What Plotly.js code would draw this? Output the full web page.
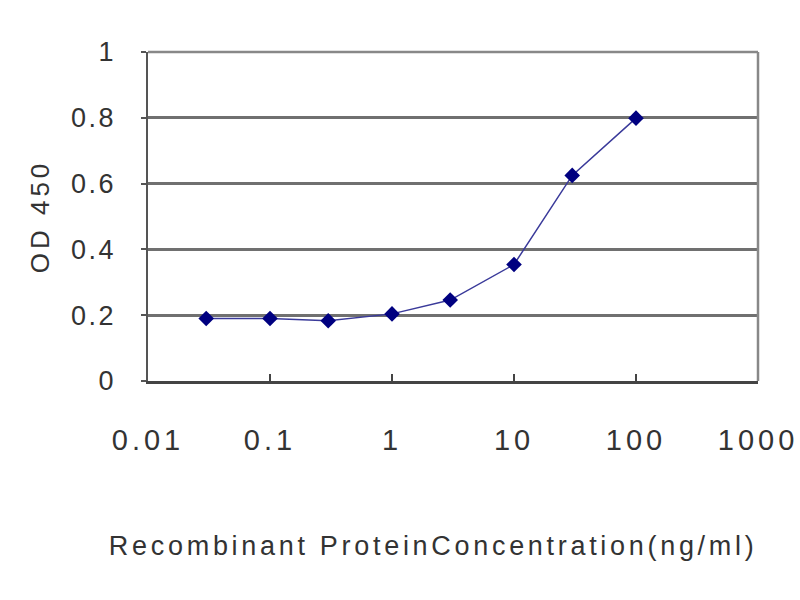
<!DOCTYPE html>
<html>
<head>
<meta charset="utf-8">
<script src="https://cdn.plot.ly/plotly-3.0.1.min.js"></script>
<style>
  html, body { margin: 0; padding: 0; background: #fff; }
  #chart { width: 800px; height: 600px; }
  /* the reference text is spaced out wider than plain Arial */
  #chart .annotation-text { letter-spacing: 3.7px; }
  #chart .ytitle { letter-spacing: 4px; }
  #chart .xtick text { letter-spacing: 4px; }
  #chart .ytick text { letter-spacing: 2.5px; }
</style>
</head>
<body>
<div id="chart"></div>
<script>
// concentration (ng/ml) and OD 450 readings
const concentration = [0.03, 0.1, 0.3, 1, 3, 10, 30, 100];
const od450 = [0.19, 0.19, 0.183, 0.204, 0.246, 0.354, 0.625, 0.799];
const xTickVals = [0.01, 0.1, 1, 10, 100, 1000];
const xTickText = ["0.01", "0.1", "1", "10", "100", "1000"];
const yTickVals = [0, 0.2, 0.4, 0.6, 0.8, 1];
const yTickText = ["0", "0.2", "0.4", "0.6", "0.8", "1"];
const xTitle = "Recombinant ProteinConcentration(ng/ml)";

const font = "Liberation Sans, Arial, sans-serif";

chart = document.getElementById('chart');
Plotly.newPlot(
    chart, [{
        x: concentration,
        y: od450,
        type: "scatter",
        mode: "lines+markers",
        line: { color: "#3a3a9a", width: 1.5 },
        marker: { symbol: "diamond", size: 12, color: "#000080" },
        hoverinfo: "x+y"
    }],
    {
        width: 800,
        height: 600,
        margin: { l: 148, r: 42, t: 52, b: 219 },
        paper_bgcolor: "#fff",
        plot_bgcolor: "#fff",
        showlegend: false,
        font: { family: font, color: "#222" },
        xaxis: {
            type: "log",
            range: [-2, 3],
            tickvals: xTickVals,
            ticktext: xTickText,
            tickfont: { size: 29, color: "#333" },
            ticks: "inside",
            ticklen: 7,
            tickwidth: 2,
            tickcolor: "#444",
            ticklabelstandoff: 32,
            showgrid: false,
            zeroline: false,
            showline: true,
            linecolor: "#444",
            linewidth: 2.5
        },
        yaxis: {
            range: [0, 1],
            tickvals: yTickVals,
            ticktext: yTickText,
            tickfont: { size: 27, color: "#333" },
            ticks: "outside",
            ticklen: 5,
            tickwidth: 2,
            tickcolor: "#555",
            ticklabelstandoff: 19,
            showgrid: true,
            gridcolor: "#707070",
            gridwidth: 3,
            zeroline: false,
            showline: true,
            linecolor: "#555",
            linewidth: 2.5,
            title: {
                text: "OD 450",
                font: { size: 26, color: "#333" },
                standoff: 22
            }
        },
        annotations: [{
            text: xTitle,
            xref: "paper", yref: "paper",
            x: 0.467, y: -0.5,
            xanchor: "center", yanchor: "middle",
            showarrow: false,
            font: { size: 27, color: "#333" }
        }],
        shapes: [{
            type: "line", xref: "paper", yref: "paper",
            x0: 1, x1: 1, y0: 0, y1: 1,
            line: { color: "#888", width: 2.5 }
        }, {
            type: "line", xref: "paper", yref: "paper",
            x0: 0, x1: 1, y0: 1, y1: 1,
            line: { color: "#888", width: 2.5 }
        }]
    },
    { displayModeBar: false, staticPlot: true }
);
</script>
</body>
</html>
